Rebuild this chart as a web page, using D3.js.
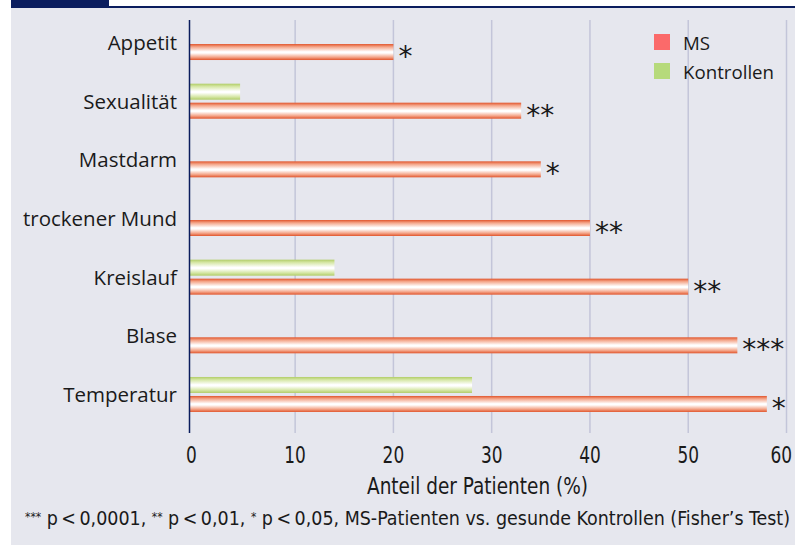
<!DOCTYPE html>
<html>
<head>
<meta charset="utf-8">
<script src="https://cdn.jsdelivr.net/npm/d3@7"></script>
<style>
  html, body { margin: 0; padding: 0; background: #ffffff; }
  svg { display: block; }
</style>
</head>
<body>
<svg id="chart" width="795" height="545"></svg>
<script>
// ---- data ----
const categories = ["Appetit", "Sexualität", "Mastdarm", "trockener Mund", "Kreislauf", "Blase", "Temperatur"];
const seriesNames = ["Kontrollen", "MS"];
const msValues = [20, 33, 35, 40, 50, 55, 58];
const controlValues = [0, 4.4, 0, 0, 14, 0, 28];
const significance = ["*", "**", "*", "**", "**", "***", "*"];
const xTicks = [0, 10, 20, 30, 40, 50, 60];
const xTitle = "Anteil der Patienten (%)";
const legendLabels = ["MS", "Kontrollen"];

// ---- layout ----
const svg = d3.select("#chart");
const W = 795, H = 545;
const plotTop = 20, plotBottom = 433;
const condensed = "DejaVu Sans Condensed, DejaVu Sans";

// background
svg.append("rect").attr("x", 11).attr("y", 8).attr("width", W - 11).attr("height", H - 8).attr("fill", "#e6e7ee");
svg.append("rect").attr("x", 11).attr("y", 0).attr("width", 98).attr("height", 8).attr("fill", "#0b1d5e");
svg.append("rect").attr("x", 11).attr("y", 6).attr("width", W - 11).attr("height", 2).attr("fill", "#0b1d5e");

const defs = svg.append("defs");
function gradient(id, edge, mid) {
  const g = defs.append("linearGradient").attr("id", id)
    .attr("x1", 0).attr("y1", 0).attr("x2", 0).attr("y2", 1);
  [[0, edge], [0.18, mid], [0.48, "#ffffff"], [0.56, "#ffffff"], [0.82, mid], [1, edge]]
    .forEach(([o, c]) => g.append("stop").attr("offset", o).attr("stop-color", c));
}
gradient("gMS", "#e1552c", "#f4a68a");
gradient("gCtl", "#b1cd68", "#d6e7a6");

const x = d3.scaleLinear().domain([-0.75, 60]).range([189.5, 786.5]);
const y = d3.scaleBand().domain(categories).range([13.2, 423.8])
  .paddingInner(1 - 35 / 58.66).paddingOuter((1 - 35 / 58.66) / 2);
const y1 = d3.scaleBand().domain(seriesNames).range([0, y.bandwidth()]).paddingInner(3 / 19);

// gridlines
svg.append("g").selectAll("line").data(xTicks.filter(d => d > 0)).join("line")
  .attr("x1", d => x(d)).attr("x2", d => x(d))
  .attr("y1", plotTop).attr("y2", plotBottom)
  .attr("stroke", "#c3c5d9").attr("stroke-width", 1.5);

// bars
const rows = categories.map((c, i) => ({ cat: c, MS: msValues[i], Kontrollen: controlValues[i], sig: significance[i] }));
const g = svg.append("g");
rows.forEach(r => {
  seriesNames.forEach(s => {
    if (r[s] > 0) {
      g.append("rect")
        .attr("x", x.range()[0] + 0.5)
        .attr("y", y(r.cat) + y1(s))
        .attr("width", x(r[s]) - x.range()[0] - 0.5)
        .attr("height", y1.bandwidth())
        .attr("fill", s === "MS" ? "url(#gMS)" : "url(#gCtl)");
    }
  });
});

// significance stars
svg.append("g").selectAll("text").data(rows).join("text")
  .attr("x", d => x(d.MS) + 5)
  .attr("y", d => y(d.cat) + y1("MS") + y1.bandwidth() / 2 + 14)
  .attr("font-family", "DejaVu Sans")
  .attr("font-size", 28)
  .attr("fill", "#1a1a1a")
  .text(d => d.sig);

// axis line
svg.append("line").attr("x1", x.range()[0]).attr("x2", x.range()[0])
  .attr("y1", plotTop).attr("y2", plotBottom)
  .attr("stroke", "#0b1d5e").attr("stroke-width", 1.5);

// category labels
svg.append("g").selectAll("text").data(categories).join("text")
  .attr("x", 177)
  .attr("y", d => y(d) + y.bandwidth() / 2 + 7.5)
  .attr("text-anchor", "end")
  .attr("font-family", "Open Sans")
  .attr("font-size", 20.5)
  .attr("fill", "#1a1a1a")
  .text(d => d);

// tick labels
const digitW = 10.8;
const tickLabels = svg.append("g").selectAll("text").data(xTicks).join("text")
  .attr("x", d => d === 0 ? x.range()[0] + 2 : x(d))
  .attr("y", 463)
  .attr("text-anchor", "middle")
  .attr("font-family", condensed)
  .attr("font-size", 22.5)
  .attr("textLength", d => String(d).length * digitW)
  .attr("lengthAdjust", "spacingAndGlyphs")
  .attr("fill", "#1a1a1a")
  .text(d => d);
// keep the last label inside the window
tickLabels.each(function () {
  const b = this.getBBox();
  const over = b.x + b.width - (W - 3);
  if (over > 0) d3.select(this).attr("x", +d3.select(this).attr("x") - over);
});

// axis title
svg.append("text").attr("x", 477.5).attr("y", 494)
  .attr("text-anchor", "middle")
  .attr("font-family", condensed)
  .attr("font-size", 22.5)
  .attr("textLength", 221)
  .attr("lengthAdjust", "spacingAndGlyphs")
  .attr("fill", "#1a1a1a")
  .text(xTitle);

// footnote
const foot = svg.append("text").attr("x", 25).attr("y", 525)
  .attr("font-family", condensed)
  .attr("font-size", 19.5)
  .attr("textLength", 765)
  .attr("lengthAdjust", "spacingAndGlyphs")
  .attr("fill", "#1a1a1a");
const footParts = [["***", true], [" p\u2009<\u20090,0001, ", false], ["**", true], [" p\u2009<\u20090,01, ", false], ["*", true], [" p\u2009<\u20090,05, MS-Patienten vs. gesunde Kontrollen (Fisher’s Test)", false]];
footParts.forEach(([t, sup]) => {
  const ts = foot.append("tspan").text(t);
  if (sup) ts.attr("font-size", 12).attr("baseline-shift", "4");
});

// legend
const legendColors = ["#fb6a6a", "#b6da7b"];
legendLabels.forEach((l, i) => {
  svg.append("rect").attr("x", 654).attr("y", 34 + i * 29).attr("width", 16).attr("height", 16).attr("fill", legendColors[i]);
  svg.append("text").attr("x", 683).attr("y", 49.5 + i * 29)
    .attr("font-family", "Open Sans").attr("font-size", 18.7).attr("fill", "#1a1a1a").text(l);
});
</script>
</body>
</html>
